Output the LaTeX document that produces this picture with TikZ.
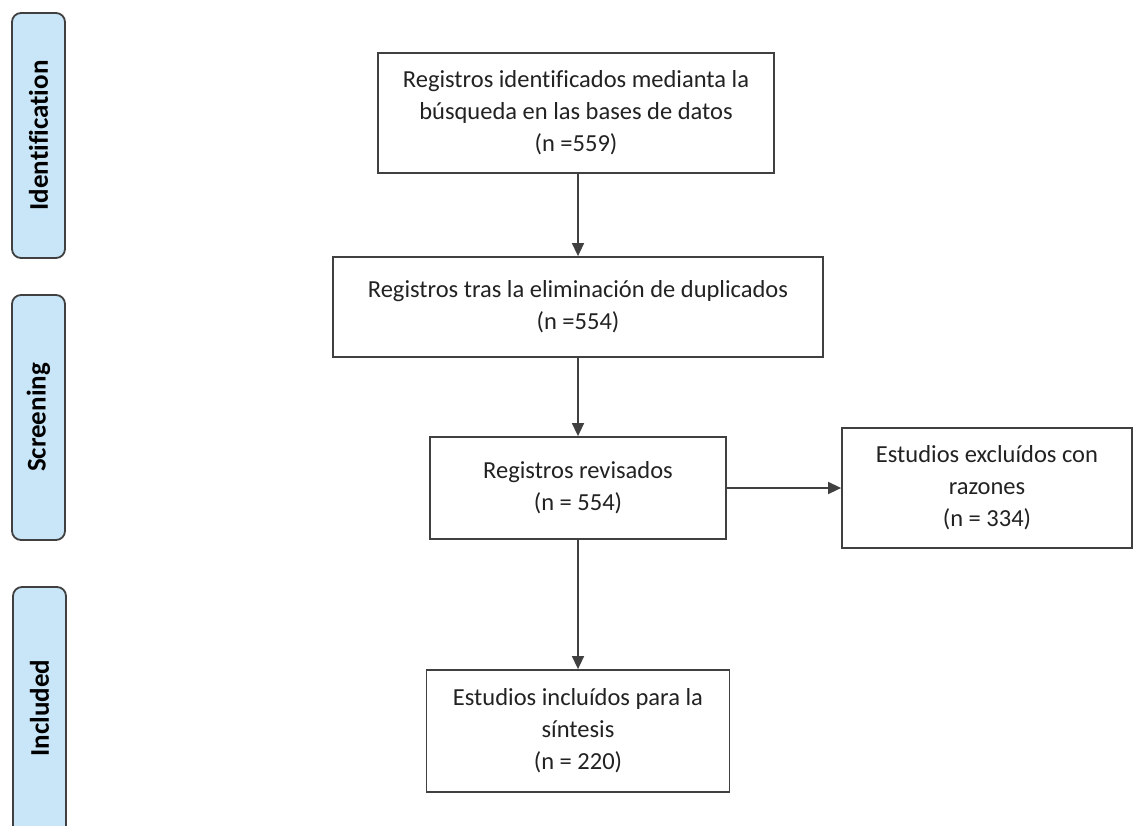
\documentclass[tikz,border=0pt]{standalone}
\usepackage{fontspec}
\setmainfont[Ligatures=NoCommon]{Carlito}
\usetikzlibrary{arrows.meta}
\definecolor{barfill}{HTML}{C8E6F8}
\definecolor{edge}{HTML}{404040}
\definecolor{txt}{HTML}{222222}
\tikzset{
  phase/.style={draw=edge, line width=1.8pt, fill=barfill, rounded corners=9pt,
    minimum width=53pt, inner sep=0pt},
  phaselabel/.style={rotate=90, inner sep=0pt, text=black,
    font=\fontsize{27}{30}\selectfont\bfseries},
  stepbox/.style={draw=edge, line width=1.8pt, fill=white, align=center, inner sep=0pt,
    text=txt, font=\fontsize{24.5}{32}\selectfont},
  arr/.style={draw=edge, line width=1.6pt, -{Triangle[length=13pt,width=12pt]}}
}
\begin{document}
\begin{tikzpicture}[x=1pt,y=-1pt]
\useasboundingbox (0,0) rectangle (1134,825);
\clip (0,0) rectangle (1134,825);
% phase bars
\node[phase, minimum height=245pt] (ident) at (38.5,135.5) {};
\node[phaselabel] (identl) at (ident.center) {Identification};
\node[phase, minimum height=245pt] (screen) at (38.5,417.5) {};
\node[phaselabel] (screenl) at (screen.center) {Screening};
\node[phase, minimum height=260pt] (incl) at (39.5,717) {};
\node[phaselabel] (incll) at (39.5,708) {Included};
% boxes
\node[stepbox, minimum width=396pt, minimum height=120pt] (b1) at (576,113)
  {Registros identificados medianta la\\búsqueda en las bases de datos\\(n =559)};
\node[stepbox, minimum width=490pt, minimum height=100pt] (b2) at (578,307)
  {Registros tras la eliminación de duplicados\\(n =554)};
\node[stepbox, minimum width=296pt, minimum height=102pt] (b3) at (578,488)
  {Registros revisados\\(n = 554)};
\node[stepbox, minimum width=290pt, minimum height=120pt] (b4) at (987,488)
  {Estudios excluídos con\\razones\\(n = 334)};
\node[stepbox, minimum width=303pt, minimum height=122pt] (b5) at (578,731)
  {Estudios incluídos para la\\síntesis\\(n = 220)};
% connectors
\draw[arr] (b1.south -| b2.north) -- (b2.north);
\draw[arr] (b2) -- (b3);
\draw[arr] (b3) -- (b4);
\draw[arr] (b3) -- (b5);
\end{tikzpicture}
\end{document}
